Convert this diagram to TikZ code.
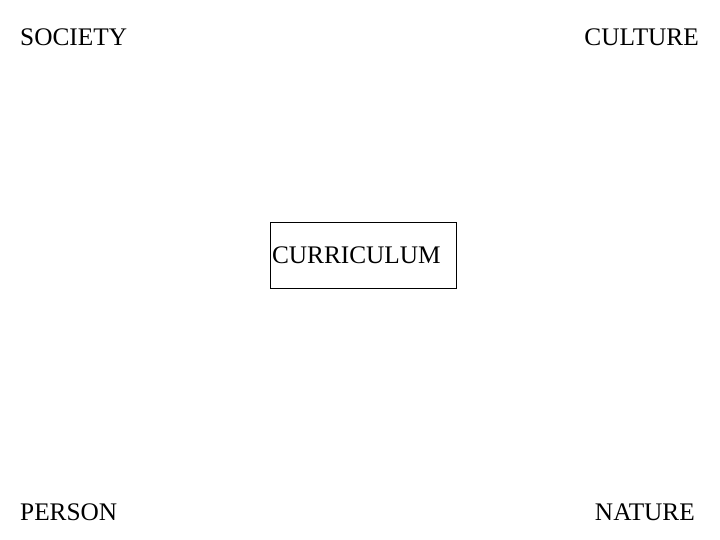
\documentclass[tikz,border=0pt]{standalone}
\usepackage{fontspec}
\setmainfont{Liberation Serif}
\usepackage{tikz}
\usetikzlibrary{positioning}

\tikzset{
	word/.style={font=\fontsize{25.4}{29}\selectfont, inner sep=0pt},
	currbox/.style={draw, thin, font=\fontsize{25.4}{29}\selectfont, text width=182bp, align=left, inner xsep=2bp, inner ysep=0pt, minimum height=66bp}
}

\begin{document}
\begin{tikzpicture}[x=1bp, y=1bp]
	\useasboundingbox (0,0) rectangle (720,540);
	
	\node[word, anchor=base west] (society) at (20,494) {SOCIETY};
	\node[word, anchor=base east] (culture) at (699,494) {CULTURE};
	\node[word, anchor=base west] (person) at (20,19) {PERSON};
	\node[word, anchor=base east] (nature) at (695,19) {NATURE};
	
	\node[currbox] (curriculum) at (363,285) {CURRICULUM};
\end{tikzpicture}
\end{document}
